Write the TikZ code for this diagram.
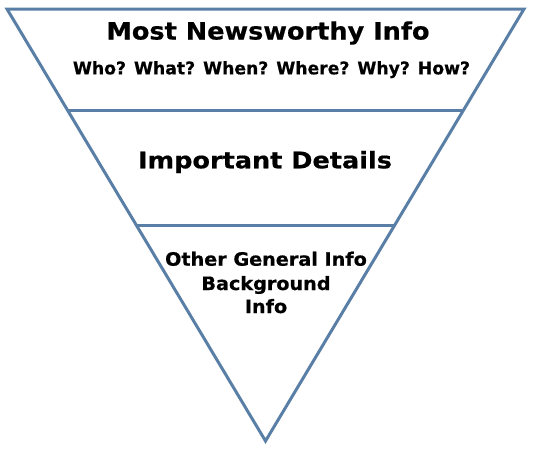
\documentclass[tikz,border=0pt]{standalone}
\usepackage{fontspec}
\setmainfont{DejaVu Sans}[BoldFeatures={FakeBold=0.6}]
\definecolor{edgeblue}{RGB}{90,127,166}
\begin{document}
\begin{tikzpicture}[x=1pt,y=-1pt,
  edge/.style={draw=edgeblue,line width=3pt,line join=miter},
  txt/.style={anchor=base,inner sep=0pt}]
\useasboundingbox (0,0) rectangle (533,451);
\coordinate (tl) at (7,9);
\coordinate (tr) at (524,9);
\coordinate (bt) at (265.5,441);
\draw[edge] (tl) -- (tr) -- (bt) -- cycle;
\draw[edge] (68,110.5) -- (463,110.5);
\draw[edge] (136,225) -- (395,225);
\node[txt,font=\bfseries\fontsize{23.9}{28}\selectfont] (t1) at (268,39.5) {\scalebox{1.07}[1]{Most Newsworthy Info}};
\node[txt,font=\bfseries\fontsize{17.4}{20}\selectfont] (t2) at (271.5,74.3) {\scalebox{0.99}[1]{Who? What? When? Where? Why? How?}};
\node[txt,font=\bfseries\fontsize{22.8}{26}\selectfont] (t3) at (265,168.3) {\scalebox{1.12}[1]{Important Details}};
\node[txt,font=\bfseries\fontsize{18.4}{22}\selectfont] (t4) at (266,265.7) {\scalebox{1.043}[1]{Other General Info}};
\node[txt,font=\bfseries\fontsize{18.4}{22}\selectfont] (t5) at (266,290) {\scalebox{1.043}[1]{Background}};
\node[txt,font=\bfseries\fontsize{18.4}{22}\selectfont] (t6) at (266,313) {\scalebox{1.043}[1]{Info}};
\end{tikzpicture}
\end{document}
